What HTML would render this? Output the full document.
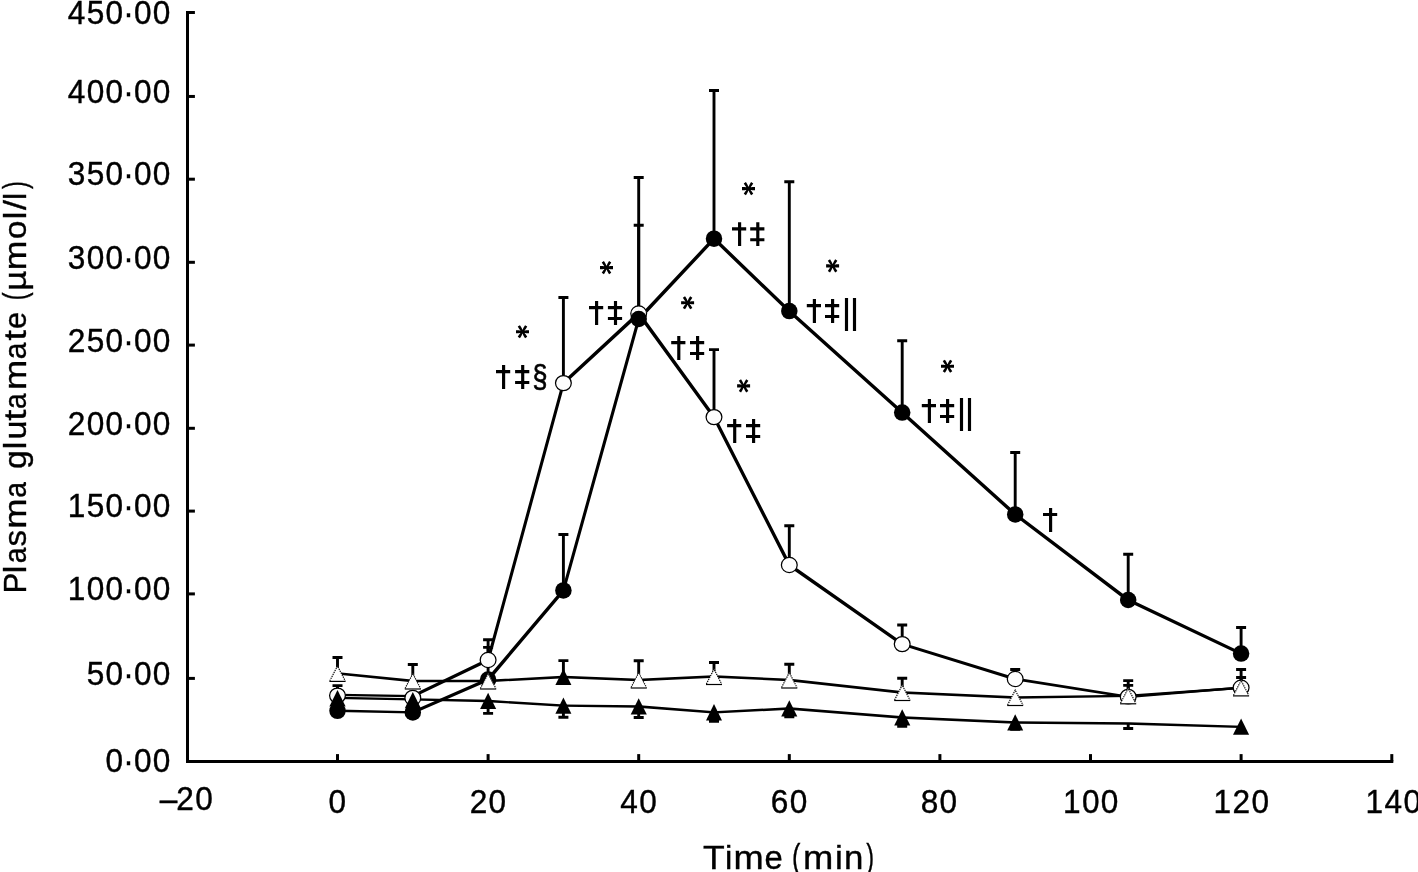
<!DOCTYPE html>
<html><head><meta charset="utf-8"><title>Plasma glutamate</title>
<style>html,body{margin:0;padding:0;background:#fff;}body{width:1418px;height:872px;overflow:hidden;}svg{display:block;filter:grayscale(1);}text{font-family:"Liberation Sans",sans-serif;fill:#000;stroke:#000;stroke-width:0.35px;}.d text{stroke-width:0.4px;}</style></head><body>
<svg width="1418" height="872" viewBox="0 0 1418 872">
<rect width="1418" height="872" fill="#fff"/>
<g stroke="#000" stroke-width="3" fill="none" stroke-linecap="butt">
<path d="M187.5 11 V762.9"/>
<path d="M186 761.45 H1393.3"/>
<path d="M187 12.50 H194.9"/>
<path d="M187 96.45 H194.9"/>
<path d="M187 179.20 H194.9"/>
<path d="M187 262.30 H194.9"/>
<path d="M187 345.10 H194.9"/>
<path d="M187 428.30 H194.9"/>
<path d="M187 511.10 H194.9"/>
<path d="M187 593.90 H194.9"/>
<path d="M187 678.40 H194.9"/>
<path d="M337.5 754.1 V761.45"/>
<path d="M488.1 754.1 V761.45"/>
<path d="M638.7 754.1 V761.45"/>
<path d="M789.3 754.1 V761.45"/>
<path d="M939.9 754.1 V761.45"/>
<path d="M1090.5 754.1 V761.45"/>
<path d="M1241.1 754.1 V761.45"/>
<path d="M1391.8 754.1 V761.45"/>
</g>
<g font-size="32.6" class="d">
<text transform="translate(152.85 771.95) scale(0.97 1)">0</text><text transform="translate(133.95 771.95) scale(0.97 1)">0</text><text transform="translate(123.29 771.95) scale(0.97 1)">·</text><text transform="translate(105.55 771.95) scale(0.97 1)">0</text>
<text transform="translate(152.85 685.15) scale(0.97 1)">0</text><text transform="translate(133.95 685.15) scale(0.97 1)">0</text><text transform="translate(123.29 685.15) scale(0.97 1)">·</text><text transform="translate(105.55 685.15) scale(0.97 1)">0</text><text transform="translate(86.65 685.15) scale(0.97 1)">5</text>
<text transform="translate(152.85 599.85) scale(0.97 1)">0</text><text transform="translate(133.95 599.85) scale(0.97 1)">0</text><text transform="translate(123.29 599.85) scale(0.97 1)">·</text><text transform="translate(105.55 599.85) scale(0.97 1)">0</text><text transform="translate(86.65 599.85) scale(0.97 1)">0</text><text transform="translate(67.75 599.85) scale(0.97 1)">1</text>
<text transform="translate(152.85 517.35) scale(0.97 1)">0</text><text transform="translate(133.95 517.35) scale(0.97 1)">0</text><text transform="translate(123.29 517.35) scale(0.97 1)">·</text><text transform="translate(105.55 517.35) scale(0.97 1)">0</text><text transform="translate(86.65 517.35) scale(0.97 1)">5</text><text transform="translate(67.75 517.35) scale(0.97 1)">1</text>
<text transform="translate(152.85 434.55) scale(0.97 1)">0</text><text transform="translate(133.95 434.55) scale(0.97 1)">0</text><text transform="translate(123.29 434.55) scale(0.97 1)">·</text><text transform="translate(105.55 434.55) scale(0.97 1)">0</text><text transform="translate(86.65 434.55) scale(0.97 1)">0</text><text transform="translate(67.75 434.55) scale(0.97 1)">2</text>
<text transform="translate(152.85 352.25) scale(0.97 1)">0</text><text transform="translate(133.95 352.25) scale(0.97 1)">0</text><text transform="translate(123.29 352.25) scale(0.97 1)">·</text><text transform="translate(105.55 352.25) scale(0.97 1)">0</text><text transform="translate(86.65 352.25) scale(0.97 1)">5</text><text transform="translate(67.75 352.25) scale(0.97 1)">2</text>
<text transform="translate(152.85 268.85) scale(0.97 1)">0</text><text transform="translate(133.95 268.85) scale(0.97 1)">0</text><text transform="translate(123.29 268.85) scale(0.97 1)">·</text><text transform="translate(105.55 268.85) scale(0.97 1)">0</text><text transform="translate(86.65 268.85) scale(0.97 1)">0</text><text transform="translate(67.75 268.85) scale(0.97 1)">3</text>
<text transform="translate(152.85 185.35) scale(0.97 1)">0</text><text transform="translate(133.95 185.35) scale(0.97 1)">0</text><text transform="translate(123.29 185.35) scale(0.97 1)">·</text><text transform="translate(105.55 185.35) scale(0.97 1)">0</text><text transform="translate(86.65 185.35) scale(0.97 1)">5</text><text transform="translate(67.75 185.35) scale(0.97 1)">3</text>
<text transform="translate(152.85 102.75) scale(0.97 1)">0</text><text transform="translate(133.95 102.75) scale(0.97 1)">0</text><text transform="translate(123.29 102.75) scale(0.97 1)">·</text><text transform="translate(105.55 102.75) scale(0.97 1)">0</text><text transform="translate(86.65 102.75) scale(0.97 1)">0</text><text transform="translate(67.75 102.75) scale(0.97 1)">4</text>
<text transform="translate(152.85 23.65) scale(0.97 1)">0</text><text transform="translate(133.95 23.65) scale(0.97 1)">0</text><text transform="translate(123.29 23.65) scale(0.97 1)">·</text><text transform="translate(105.55 23.65) scale(0.97 1)">0</text><text transform="translate(86.65 23.65) scale(0.97 1)">5</text><text transform="translate(67.75 23.65) scale(0.97 1)">4</text>
<text transform="translate(195.26 810.40) scale(0.97 1)">0</text><text transform="translate(176.36 810.40) scale(0.97 1)">2</text><text transform="translate(159.73 810.40) scale(0.97 1)">–</text>
<text transform="translate(328.51 813.20) scale(0.97 1)">0</text>
<text transform="translate(488.56 813.20) scale(0.97 1)">0</text><text transform="translate(469.66 813.20) scale(0.97 1)">2</text>
<text transform="translate(639.16 813.20) scale(0.97 1)">0</text><text transform="translate(620.26 813.20) scale(0.97 1)">4</text>
<text transform="translate(789.76 813.20) scale(0.97 1)">0</text><text transform="translate(770.86 813.20) scale(0.97 1)">6</text>
<text transform="translate(939.56 813.20) scale(0.97 1)">0</text><text transform="translate(920.66 813.20) scale(0.97 1)">8</text>
<text transform="translate(1100.81 813.20) scale(0.97 1)">0</text><text transform="translate(1081.91 813.20) scale(0.97 1)">0</text><text transform="translate(1063.01 813.20) scale(0.97 1)">1</text>
<text transform="translate(1251.41 813.20) scale(0.97 1)">0</text><text transform="translate(1232.51 813.20) scale(0.97 1)">2</text><text transform="translate(1213.61 813.20) scale(0.97 1)">1</text>
<text transform="translate(1403.41 813.20) scale(0.97 1)">0</text><text transform="translate(1384.51 813.20) scale(0.97 1)">4</text><text transform="translate(1365.61 813.20) scale(0.97 1)">1</text>
</g>
<g transform="translate(700 868.5)" font-size="32.5"><text transform="translate(2.90 0) scale(1.094 1)">T</text><text transform="translate(24.99 0) scale(1.015 1)">i</text><text transform="translate(33.49 0) scale(1.115 1)">m</text><text transform="translate(64.61 0) scale(1.010 1)">e</text><text transform="translate(91.93 0) scale(0.778 1.07)">(</text><text transform="translate(103.08 0) scale(1.120 1)">m</text><text transform="translate(134.94 0) scale(1.085 1)">i</text><text transform="translate(144.09 0) scale(1.072 1)">n</text><text transform="translate(166.26 0) scale(0.720 1.07)">)</text></g>
<g transform="translate(26 591) rotate(-90)" font-size="31.5"><text transform="translate(-2.56 0) scale(0.990 1)">P</text><text transform="translate(17.70 0) scale(1.084 1)">l</text><text transform="translate(27.70 0) scale(0.896 1)">a</text><text transform="translate(44.58 0) scale(1.048 1)">s</text><text transform="translate(62.28 0) scale(1.155 1)">m</text><text transform="translate(93.30 0) scale(0.896 1)">a</text><text transform="translate(121.98 0) scale(1.073 1)">g</text><text transform="translate(141.80 0) scale(1.084 1)">l</text><text transform="translate(151.48 0) scale(1.084 1)">u</text><text transform="translate(170.29 0) scale(1.280 1)">t</text><text transform="translate(182.11 0) scale(0.890 1)">a</text><text transform="translate(201.08 0) scale(1.155 1)">m</text><text transform="translate(231.83 0) scale(0.952 1)">a</text><text transform="translate(250.43 0) scale(1.193 1)">t</text><text transform="translate(261.99 0) scale(0.981 1)">e</text><text transform="translate(290.75 0) scale(0.742 1.07)">(</text><text transform="translate(300.08 0) scale(1.126 1)">µ</text><text transform="translate(320.73 0) scale(1.133 1)">m</text><text transform="translate(351.69 0) scale(1.069 1)">o</text><text transform="translate(371.70 0) scale(1.084 1)">l</text><text transform="translate(381.10 0) scale(1.143 1)">/</text><text transform="translate(390.95 0) scale(1.011 1)">l</text><text transform="translate(401.96 0) scale(0.742 1.07)">)</text></g>
<path d="M337.5 673.4 V657.5 M332.5 657.5 H342.5" stroke="#000" stroke-width="2.9" fill="none"/>
<path d="M412.8 681.0 V664.5 M407.8 664.5 H417.8" stroke="#000" stroke-width="2.9" fill="none"/>
<path d="M563.4 677.0 V660.6 M558.4 660.6 H568.4" stroke="#000" stroke-width="2.9" fill="none"/>
<path d="M638.7 680.0 V660.7 M633.7 660.7 H643.7" stroke="#000" stroke-width="2.9" fill="none"/>
<path d="M714.0 676.5 V662.5 M709.0 662.5 H719.0" stroke="#000" stroke-width="2.9" fill="none"/>
<path d="M789.3 680.0 V664.2 M784.3 664.2 H794.3" stroke="#000" stroke-width="2.9" fill="none"/>
<path d="M902.2 692.5 V678.2 M897.2 678.2 H907.2" stroke="#000" stroke-width="2.9" fill="none"/>
<path d="M1128.2 695.8 V685.4 M1123.2 685.4 H1133.2" stroke="#000" stroke-width="2.9" fill="none"/>
<path d="M1241.1 687.9 V677.5 M1236.1 677.5 H1246.1" stroke="#000" stroke-width="2.9" fill="none"/>
<path d="M337.5 695.6 V685.6 M332.5 685.6 H342.5" stroke="#000" stroke-width="2.9" fill="none"/>
<path d="M488.1 660.0 V639.7 M483.1 639.7 H493.1" stroke="#000" stroke-width="2.9" fill="none"/>
<path d="M563.4 383.1 V297.5 M558.4 297.5 H568.4" stroke="#000" stroke-width="2.9" fill="none"/>
<path d="M638.7 313.5 V177.5 M633.7 177.5 H643.7" stroke="#000" stroke-width="2.9" fill="none"/>
<path d="M714.0 417.1 V349.6 M709.0 349.6 H719.0" stroke="#000" stroke-width="2.9" fill="none"/>
<path d="M789.3 565.0 V525.7 M784.3 525.7 H794.3" stroke="#000" stroke-width="2.9" fill="none"/>
<path d="M902.2 644.1 V625.0 M897.2 625.0 H907.2" stroke="#000" stroke-width="2.9" fill="none"/>
<path d="M1015.2 679.0 V669.5 M1010.2 669.5 H1020.2" stroke="#000" stroke-width="2.9" fill="none"/>
<path d="M1128.2 696.8 V680.6 M1123.2 680.6 H1133.2" stroke="#000" stroke-width="2.9" fill="none"/>
<path d="M1241.1 687.7 V669.5 M1236.1 669.5 H1246.1" stroke="#000" stroke-width="2.9" fill="none"/>
<path d="M488.1 701.0 V713.4 M483.1 713.4 H493.1" stroke="#000" stroke-width="2.9" fill="none"/>
<path d="M563.4 705.7 V717.2 M558.4 717.2 H568.4" stroke="#000" stroke-width="2.9" fill="none"/>
<path d="M638.7 706.5 V717.5 M633.7 717.5 H643.7" stroke="#000" stroke-width="2.9" fill="none"/>
<path d="M714.0 712.4 V721.4 M709.0 721.4 H719.0" stroke="#000" stroke-width="2.9" fill="none"/>
<path d="M789.3 708.5 V716.9 M784.3 716.9 H794.3" stroke="#000" stroke-width="2.9" fill="none"/>
<path d="M902.2 717.5 V726.3 M897.2 726.3 H907.2" stroke="#000" stroke-width="2.9" fill="none"/>
<path d="M1015.2 722.5 V729.2 M1010.2 729.2 H1020.2" stroke="#000" stroke-width="2.9" fill="none"/>
<path d="M1128.2 723.5 V728.5 M1123.2 728.5 H1133.2" stroke="#000" stroke-width="2.9" fill="none"/>
<path d="M337.5 710.8 V701.0 M332.5 701.0 H342.5" stroke="#000" stroke-width="2.9" fill="none"/>
<path d="M412.8 712.4 V702.6 M407.8 702.6 H417.8" stroke="#000" stroke-width="2.9" fill="none"/>
<path d="M488.1 679.5 V647.4 M483.1 647.4 H493.1" stroke="#000" stroke-width="2.9" fill="none"/>
<path d="M563.4 590.4 V534.5 M558.4 534.5 H568.4" stroke="#000" stroke-width="2.9" fill="none"/>
<path d="M638.7 319.0 V225.3 M633.7 225.3 H643.7" stroke="#000" stroke-width="2.9" fill="none"/>
<path d="M714.0 238.7 V90.5 M709.0 90.5 H719.0" stroke="#000" stroke-width="2.9" fill="none"/>
<path d="M789.3 311.1 V181.8 M784.3 181.8 H794.3" stroke="#000" stroke-width="2.9" fill="none"/>
<path d="M902.2 412.6 V340.7 M897.2 340.7 H907.2" stroke="#000" stroke-width="2.9" fill="none"/>
<path d="M1015.2 514.4 V452.5 M1010.2 452.5 H1020.2" stroke="#000" stroke-width="2.9" fill="none"/>
<path d="M1128.2 600.0 V554.2 M1123.2 554.2 H1133.2" stroke="#000" stroke-width="2.9" fill="none"/>
<path d="M1241.1 653.6 V627.5 M1236.1 627.5 H1246.1" stroke="#000" stroke-width="2.9" fill="none"/>
<path d="M336.23 672.25 L338.77 672.25 L414.07 679.85 L414.07 682.15 L411.53 682.15 L336.23 674.55Z M411.53 679.85 L489.38 679.85 L489.38 682.15 L411.53 682.15Z M486.83 679.85 L562.12 675.85 L564.67 675.85 L564.67 678.15 L489.38 682.15 L486.83 682.15Z M562.12 675.85 L564.67 675.85 L639.98 678.85 L639.98 681.15 L637.43 681.15 L562.12 678.15Z M637.43 678.85 L712.73 675.35 L715.27 675.35 L715.27 677.65 L639.98 681.15 L637.43 681.15Z M712.73 675.35 L715.27 675.35 L790.57 678.85 L790.57 681.15 L788.02 681.15 L712.73 677.65Z M788.02 678.85 L790.57 678.85 L903.52 691.35 L903.52 693.65 L900.98 693.65 L788.02 681.15Z M900.98 691.35 L903.52 691.35 L1016.48 696.35 L1016.48 698.65 L1013.93 698.65 L900.98 693.65Z M1013.93 696.35 L1126.88 694.65 L1129.43 694.65 L1129.43 696.95 L1016.48 698.65 L1013.93 698.65Z M1126.88 694.65 L1239.82 686.75 L1242.38 686.75 L1242.38 689.05 L1129.43 696.95 L1126.88 696.95Z" fill="#000"/>
<path d="M336.23 693.8 L338.77 693.8 L414.07 695.05 L414.07 697.35 L411.53 697.35 L336.23 696.1Z M411.53 695.05 L486.83 658.85 L489.38 658.85 L489.38 661.15 L414.07 697.35 L411.53 697.35Z M486.83 658.85 L562.12 381.95 L564.67 381.95 L564.67 384.25 L489.38 661.15 L486.83 661.15Z M562.12 381.95 L637.43 312.35 L639.98 312.35 L639.98 314.65 L564.67 384.25 L562.12 384.25Z M637.43 312.35 L639.98 312.35 L715.27 415.95 L715.27 418.25 L712.73 418.25 L637.43 314.65Z M712.73 415.95 L715.27 415.95 L790.57 563.85 L790.57 566.15 L788.02 566.15 L712.73 418.25Z M788.02 563.85 L790.57 563.85 L903.52 642.95 L903.52 645.25 L900.98 645.25 L788.02 566.15Z M900.98 642.95 L903.52 642.95 L1016.48 677.85 L1016.48 680.15 L1013.93 680.15 L900.98 645.25Z M1013.93 677.85 L1016.48 677.85 L1129.43 695.65 L1129.43 697.95 L1126.88 697.95 L1013.93 680.15Z M1126.88 695.65 L1239.82 686.55 L1242.38 686.55 L1242.38 688.85 L1129.43 697.95 L1126.88 697.95Z" fill="#000"/>
<path d="M336.23 696.8 L338.77 696.8 L414.07 698.15 L414.07 700.45 L411.53 700.45 L336.23 699.1Z M411.53 698.15 L414.07 698.15 L489.38 699.85 L489.38 702.15 L486.83 702.15 L411.53 700.45Z M486.83 699.85 L489.38 699.85 L564.67 704.55 L564.67 706.85 L562.12 706.85 L486.83 702.15Z M562.12 704.55 L564.67 704.55 L639.98 705.35 L639.98 707.65 L637.43 707.65 L562.12 706.85Z M637.43 705.35 L639.98 705.35 L715.27 711.25 L715.27 713.55 L712.73 713.55 L637.43 707.65Z M712.73 711.25 L788.02 707.35 L790.57 707.35 L790.57 709.65 L715.27 713.55 L712.73 713.55Z M788.02 707.35 L790.57 707.35 L903.52 716.35 L903.52 718.65 L900.98 718.65 L788.02 709.65Z M900.98 716.35 L903.52 716.35 L1016.48 721.35 L1016.48 723.65 L1013.93 723.65 L900.98 718.65Z M1013.93 721.35 L1016.48 721.35 L1129.43 722.35 L1129.43 724.65 L1126.88 724.65 L1013.93 723.65Z M1126.88 722.35 L1129.43 722.35 L1242.38 725.65 L1242.38 727.95 L1239.82 727.95 L1126.88 724.65Z" fill="#000"/>
<path d="M336.23 709.6 L338.77 709.6 L414.07 711.25 L414.07 713.55 L411.53 713.55 L336.23 711.9Z M411.53 711.25 L486.83 678.35 L489.38 678.35 L489.38 680.65 L414.07 713.55 L411.53 713.55Z M486.83 678.35 L562.12 589.25 L564.67 589.25 L564.67 591.55 L489.38 680.65 L486.83 680.65Z M562.12 589.25 L637.43 317.85 L639.98 317.85 L639.98 320.15 L564.67 591.55 L562.12 591.55Z M637.43 317.85 L712.73 237.55 L715.27 237.55 L715.27 239.85 L639.98 320.15 L637.43 320.15Z M712.73 237.55 L715.27 237.55 L790.57 309.95 L790.57 312.25 L788.02 312.25 L712.73 239.85Z M788.02 309.95 L790.57 309.95 L903.52 411.45 L903.52 413.75 L900.98 413.75 L788.02 312.25Z M900.98 411.45 L903.52 411.45 L1016.48 513.25 L1016.48 515.55 L1013.93 515.55 L900.98 413.75Z M1013.93 513.25 L1016.48 513.25 L1129.43 598.85 L1129.43 601.15 L1126.88 601.15 L1013.93 515.55Z M1126.88 598.85 L1129.43 598.85 L1242.38 652.45 L1242.38 654.75 L1239.82 654.75 L1126.88 601.15Z" fill="#000"/>
<ellipse cx="337.5" cy="695.6" rx="7.9" ry="7.55" fill="#fdfdfd" stroke="#000" stroke-width="1.25"/>
<ellipse cx="412.8" cy="697.9" rx="7.9" ry="7.55" fill="#fdfdfd" stroke="#000" stroke-width="1.25"/>
<ellipse cx="488.1" cy="660.0" rx="7.9" ry="7.55" fill="#fdfdfd" stroke="#000" stroke-width="1.25"/>
<ellipse cx="563.4" cy="383.1" rx="7.9" ry="7.55" fill="#fdfdfd" stroke="#000" stroke-width="1.25"/>
<ellipse cx="638.7" cy="313.5" rx="7.9" ry="7.55" fill="#fdfdfd" stroke="#000" stroke-width="1.25"/>
<ellipse cx="714.0" cy="417.1" rx="7.9" ry="7.55" fill="#fdfdfd" stroke="#000" stroke-width="1.25"/>
<ellipse cx="789.3" cy="565.0" rx="7.9" ry="7.55" fill="#fdfdfd" stroke="#000" stroke-width="1.25"/>
<ellipse cx="902.2" cy="644.1" rx="7.9" ry="7.55" fill="#fdfdfd" stroke="#000" stroke-width="1.25"/>
<ellipse cx="1015.2" cy="679.0" rx="7.9" ry="7.55" fill="#fdfdfd" stroke="#000" stroke-width="1.25"/>
<ellipse cx="1128.2" cy="696.8" rx="7.9" ry="7.55" fill="#fdfdfd" stroke="#000" stroke-width="1.25"/>
<ellipse cx="1241.1" cy="687.7" rx="7.9" ry="7.55" fill="#fdfdfd" stroke="#000" stroke-width="1.25"/>
<path d="M337.5 690.1 L345.6 706.4 H329.4 Z" fill="#000"/>
<path d="M412.8 692.0 L420.9 708.3 H404.8 Z" fill="#000"/>
<path d="M488.1 692.7 L496.2 709.0 H480.1 Z" fill="#000"/>
<path d="M563.4 697.4 L571.4 713.7 H555.4 Z" fill="#000"/>
<path d="M638.7 698.2 L646.8 714.5 H630.7 Z" fill="#000"/>
<path d="M714.0 704.1 L722.0 720.4 H706.0 Z" fill="#000"/>
<path d="M789.3 700.2 L797.3 716.5 H781.2 Z" fill="#000"/>
<path d="M902.2 709.2 L910.3 725.5 H894.2 Z" fill="#000"/>
<path d="M1015.2 714.2 L1023.2 730.5 H1007.2 Z" fill="#000"/>
<path d="M1241.1 718.5 L1249.1 734.8 H1233.0 Z" fill="#000"/>
<circle cx="337.5" cy="710.8" r="8.25" fill="#000"/>
<circle cx="412.8" cy="712.4" r="8.25" fill="#000"/>
<circle cx="488.1" cy="679.5" r="8.25" fill="#000"/>
<circle cx="563.4" cy="590.4" r="8.25" fill="#000"/>
<circle cx="638.7" cy="319.0" r="8.25" fill="#000"/>
<circle cx="714.0" cy="238.7" r="8.25" fill="#000"/>
<circle cx="789.3" cy="311.1" r="8.25" fill="#000"/>
<circle cx="902.2" cy="412.6" r="8.25" fill="#000"/>
<circle cx="1015.2" cy="514.4" r="8.25" fill="#000"/>
<circle cx="1128.2" cy="600.0" r="8.25" fill="#000"/>
<circle cx="1241.1" cy="653.6" r="8.25" fill="#000"/>
<path d="M337.5 665.4 L345.6 682.0 H329.4 Z" fill="#fff"/>
<path d="M329.8 680.8 L337.5 666.0 L345.2 680.8" fill="none" stroke="#000" stroke-width="1.15" stroke-dasharray="1.3 0.9"/>
<path d="M329.4 681.4 H345.6" fill="none" stroke="#000" stroke-width="1.2"/>
<path d="M412.8 673.0 L420.9 689.6 H404.8 Z" fill="#fff"/>
<path d="M405.1 688.4 L412.8 673.6 L420.5 688.4" fill="none" stroke="#000" stroke-width="1.15" stroke-dasharray="1.3 0.9"/>
<path d="M404.8 689.0 H420.9" fill="none" stroke="#000" stroke-width="1.2"/>
<path d="M488.1 673.0 L496.2 689.6 H480.1 Z" fill="#fff"/>
<path d="M480.4 688.4 L488.1 673.6 L495.8 688.4" fill="none" stroke="#000" stroke-width="1.15" stroke-dasharray="1.3 0.9"/>
<path d="M480.1 689.0 H496.2" fill="none" stroke="#000" stroke-width="1.2"/>
<path d="M563.4 668.7 L571.4 685.0 H555.4 Z" fill="#000"/>
<path d="M638.7 672.0 L646.8 688.6 H630.7 Z" fill="#fff"/>
<path d="M631.1 687.4 L638.7 672.6 L646.4 687.4" fill="none" stroke="#000" stroke-width="1.15" stroke-dasharray="1.3 0.9"/>
<path d="M630.7 688.0 H646.8" fill="none" stroke="#000" stroke-width="1.2"/>
<path d="M714.0 668.5 L722.0 685.1 H706.0 Z" fill="#fff"/>
<path d="M706.4 683.9 L714.0 669.1 L721.6 683.9" fill="none" stroke="#000" stroke-width="1.15" stroke-dasharray="1.3 0.9"/>
<path d="M706.0 684.5 H722.0" fill="none" stroke="#000" stroke-width="1.2"/>
<path d="M789.3 672.0 L797.3 688.6 H781.2 Z" fill="#fff"/>
<path d="M781.6 687.4 L789.3 672.6 L796.9 687.4" fill="none" stroke="#000" stroke-width="1.15" stroke-dasharray="1.3 0.9"/>
<path d="M781.2 688.0 H797.3" fill="none" stroke="#000" stroke-width="1.2"/>
<path d="M902.2 684.5 L910.3 701.1 H894.2 Z" fill="#fff"/>
<path d="M894.6 699.9 L902.2 685.1 L909.9 699.9" fill="none" stroke="#000" stroke-width="1.15" stroke-dasharray="1.3 0.9"/>
<path d="M894.2 700.5 H910.3" fill="none" stroke="#000" stroke-width="1.2"/>
<path d="M1015.2 689.5 L1023.2 706.1 H1007.2 Z" fill="#fff"/>
<path d="M1007.6 704.9 L1015.2 690.1 L1022.9 704.9" fill="none" stroke="#000" stroke-width="1.15" stroke-dasharray="1.3 0.9"/>
<path d="M1007.2 705.5 H1023.2" fill="none" stroke="#000" stroke-width="1.2"/>
<path d="M1128.2 687.8 L1136.2 704.4 H1120.1 Z" fill="#fff"/>
<path d="M1120.5 703.2 L1128.2 688.4 L1135.8 703.2" fill="none" stroke="#000" stroke-width="1.15" stroke-dasharray="1.3 0.9"/>
<path d="M1120.1 703.8 H1136.2" fill="none" stroke="#000" stroke-width="1.2"/>
<path d="M1241.1 679.9 L1249.1 696.5 H1233.0 Z" fill="#fff"/>
<path d="M1233.5 695.3 L1241.1 680.5 L1248.7 695.3" fill="none" stroke="#000" stroke-width="1.15" stroke-dasharray="1.3 0.9"/>
<path d="M1233.0 695.9 H1249.1" fill="none" stroke="#000" stroke-width="1.2"/>
<path d="M522.50 332.45 L526.40 333.25 L529.00 333.25 L529.00 330.15 L526.40 330.15 L522.50 330.95Z M522.50 330.95 L518.60 330.15 L516.00 330.15 L516.00 333.25 L518.60 333.25 L522.50 332.45Z M521.86 332.10 L523.59 335.90 L525.05 338.24 L527.26 336.86 L525.80 334.52 L523.14 331.30Z M521.86 331.30 L519.20 334.52 L517.74 336.86 L519.95 338.24 L521.41 335.90 L523.14 332.10Z M523.14 331.30 L521.41 327.50 L519.95 325.16 L517.74 326.54 L519.20 328.88 L521.86 332.10Z M523.14 332.10 L525.80 328.88 L527.26 326.54 L525.05 325.16 L523.59 327.50 L521.86 331.30Z" fill="#000"/>
<path d="M503.6 365.0 V388.9 M496.0 371.6 H510.2" stroke="#000" stroke-width="3.15" fill="none"/>
<path d="M522.7 365.0 V388.9 M515.1 371.6 H529.3 M515.1 382.5 H529.3" stroke="#000" stroke-width="3.15" fill="none"/>
<text transform="translate(532.49 387.46) scale(0.87 1)" font-size="31" style="stroke-width:0.7px">§</text>
<path d="M606.50 268.35 L610.40 269.15 L613.00 269.15 L613.00 266.05 L610.40 266.05 L606.50 266.85Z M606.50 266.85 L602.60 266.05 L600.00 266.05 L600.00 269.15 L602.60 269.15 L606.50 268.35Z M605.86 268.00 L607.59 271.80 L609.05 274.14 L611.26 272.76 L609.80 270.42 L607.14 267.20Z M605.86 267.20 L603.20 270.42 L601.74 272.76 L603.95 274.14 L605.41 271.80 L607.14 268.00Z M607.14 267.20 L605.41 263.40 L603.95 261.06 L601.74 262.44 L603.20 264.78 L605.86 268.00Z M607.14 268.00 L609.80 264.78 L611.26 262.44 L609.05 261.06 L607.59 263.40 L605.86 267.20Z" fill="#000"/>
<path d="M596.6 301.0 V324.9 M589.0 307.6 H603.2" stroke="#000" stroke-width="3.15" fill="none"/>
<path d="M615.5 301.0 V324.9 M607.9 307.6 H622.1 M607.9 318.5 H622.1" stroke="#000" stroke-width="3.15" fill="none"/>
<path d="M687.60 303.55 L691.50 304.35 L694.10 304.35 L694.10 301.25 L691.50 301.25 L687.60 302.05Z M687.60 302.05 L683.70 301.25 L681.10 301.25 L681.10 304.35 L683.70 304.35 L687.60 303.55Z M686.96 303.20 L688.69 307.00 L690.15 309.34 L692.36 307.96 L690.90 305.62 L688.24 302.40Z M686.96 302.40 L684.30 305.62 L682.84 307.96 L685.05 309.34 L686.51 307.00 L688.24 303.20Z M688.24 302.40 L686.51 298.60 L685.05 296.26 L682.84 297.64 L684.30 299.98 L686.96 303.20Z M688.24 303.20 L690.90 299.98 L692.36 297.64 L690.15 296.26 L688.69 298.60 L686.96 302.40Z" fill="#000"/>
<path d="M678.8 336.0 V359.9 M671.2 342.6 H685.4" stroke="#000" stroke-width="3.15" fill="none"/>
<path d="M697.6 336.0 V359.9 M690.0 342.6 H704.2 M690.0 353.5 H704.2" stroke="#000" stroke-width="3.15" fill="none"/>
<path d="M748.50 189.35 L752.40 190.15 L755.00 190.15 L755.00 187.05 L752.40 187.05 L748.50 187.85Z M748.50 187.85 L744.60 187.05 L742.00 187.05 L742.00 190.15 L744.60 190.15 L748.50 189.35Z M747.86 189.00 L749.59 192.80 L751.05 195.14 L753.26 193.76 L751.80 191.42 L749.14 188.20Z M747.86 188.20 L745.20 191.42 L743.74 193.76 L745.95 195.14 L747.41 192.80 L749.14 189.00Z M749.14 188.20 L747.41 184.40 L745.95 182.06 L743.74 183.44 L745.20 185.78 L747.86 189.00Z M749.14 189.00 L751.80 185.78 L753.26 183.44 L751.05 182.06 L749.59 184.40 L747.86 188.20Z" fill="#000"/>
<path d="M739.6 222.2 V246.1 M732.0 228.8 H746.2" stroke="#000" stroke-width="3.15" fill="none"/>
<path d="M757.8 222.2 V246.1 M750.2 228.8 H764.4 M750.2 239.7 H764.4" stroke="#000" stroke-width="3.15" fill="none"/>
<path d="M743.60 386.65 L747.50 387.45 L750.10 387.45 L750.10 384.35 L747.50 384.35 L743.60 385.15Z M743.60 385.15 L739.70 384.35 L737.10 384.35 L737.10 387.45 L739.70 387.45 L743.60 386.65Z M742.96 386.30 L744.69 390.10 L746.15 392.44 L748.36 391.06 L746.90 388.72 L744.24 385.50Z M742.96 385.50 L740.30 388.72 L738.84 391.06 L741.05 392.44 L742.51 390.10 L744.24 386.30Z M744.24 385.50 L742.51 381.70 L741.05 379.36 L738.84 380.74 L740.30 383.08 L742.96 386.30Z M744.24 386.30 L746.90 383.08 L748.36 380.74 L746.15 379.36 L744.69 381.70 L742.96 385.50Z" fill="#000"/>
<path d="M734.7 419.0 V442.9 M727.1 425.6 H741.3" stroke="#000" stroke-width="3.15" fill="none"/>
<path d="M753.6 419.0 V442.9 M746.0 425.6 H760.2 M746.0 436.5 H760.2" stroke="#000" stroke-width="3.15" fill="none"/>
<path d="M832.60 266.65 L836.50 267.45 L839.10 267.45 L839.10 264.35 L836.50 264.35 L832.60 265.15Z M832.60 265.15 L828.70 264.35 L826.10 264.35 L826.10 267.45 L828.70 267.45 L832.60 266.65Z M831.96 266.30 L833.69 270.10 L835.15 272.44 L837.36 271.06 L835.90 268.72 L833.24 265.50Z M831.96 265.50 L829.30 268.72 L827.84 271.06 L830.05 272.44 L831.51 270.10 L833.24 266.30Z M833.24 265.50 L831.51 261.70 L830.05 259.36 L827.84 260.74 L829.30 263.08 L831.96 266.30Z M833.24 266.30 L835.90 263.08 L837.36 260.74 L835.15 259.36 L833.69 261.70 L831.96 265.50Z" fill="#000"/>
<path d="M814.4 299.0 V322.9 M806.8 305.6 H821.0" stroke="#000" stroke-width="3.15" fill="none"/>
<path d="M832.6 299.0 V322.9 M825.0 305.6 H839.2 M825.0 316.5 H839.2" stroke="#000" stroke-width="3.15" fill="none"/>
<path d="M846.5 297.9 V331.0 M854.5 297.9 V331.0" stroke="#000" stroke-width="3.15" fill="none"/>
<path d="M947.50 366.95 L951.40 367.75 L954.00 367.75 L954.00 364.65 L951.40 364.65 L947.50 365.45Z M947.50 365.45 L943.60 364.65 L941.00 364.65 L941.00 367.75 L943.60 367.75 L947.50 366.95Z M946.86 366.60 L948.59 370.40 L950.05 372.74 L952.26 371.36 L950.80 369.02 L948.14 365.80Z M946.86 365.80 L944.20 369.02 L942.74 371.36 L944.95 372.74 L946.41 370.40 L948.14 366.60Z M948.14 365.80 L946.41 362.00 L944.95 359.66 L942.74 361.04 L944.20 363.38 L946.86 366.60Z M948.14 366.60 L950.80 363.38 L952.26 361.04 L950.05 359.66 L948.59 362.00 L946.86 365.80Z" fill="#000"/>
<path d="M929.4 399.0 V422.9 M921.8 405.6 H936.0" stroke="#000" stroke-width="3.15" fill="none"/>
<path d="M947.6 399.0 V422.9 M940.0 405.6 H954.2 M940.0 416.5 H954.2" stroke="#000" stroke-width="3.15" fill="none"/>
<path d="M961.5 397.9 V431.0 M969.5 397.9 V431.0" stroke="#000" stroke-width="3.15" fill="none"/>
<path d="M1050.6 508.0 V531.9 M1043.0 514.5 H1057.2" stroke="#000" stroke-width="3.15" fill="none"/>
</svg></body></html>
